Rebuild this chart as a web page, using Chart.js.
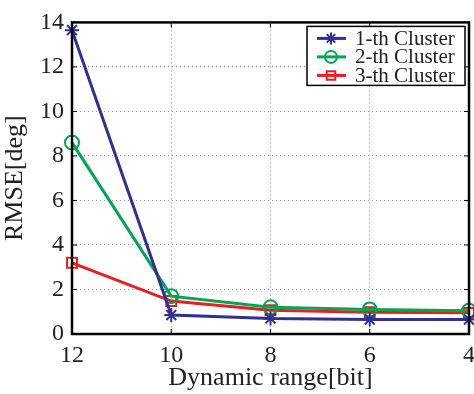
<!DOCTYPE html>
<html>
<head>
<meta charset="utf-8">
<script src="https://cdn.jsdelivr.net/npm/chart.js@4"></script>
<style>
  html, body { margin: 0; padding: 0; background: #fff; overflow: hidden; }
  #wrap { width: 482px; height: 394px; }
</style>
</head>
<body>
<div id="wrap"><canvas id="rmseChart"></canvas></div>
<script>
// data
const bits = ['12', '10', '8', '6', '4'];
const cluster1 = [13.65, 0.85, 0.7, 0.65, 0.65];
const cluster2 = [8.6, 1.7, 1.2, 1.1, 1.05];
const cluster3 = [3.2, 1.48, 1.07, 0.98, 0.95];
const seriesNames = ['1-th Cluster', '2-th Cluster', '3-th Cluster'];
const yTicks = [0, 2, 4, 6, 8, 10, 12, 14];

const FONT = '"Liberation Serif", "Times New Roman", serif';

// frame + inward tick marks (matlab style)
const framePlugin = {
    id: 'frame',
    afterDatasetsDraw(chart) {
        const { ctx, chartArea: a, scales } = chart;
        ctx.save();
        ctx.strokeStyle = '#000';
        ctx.lineWidth = 1;
        bits.forEach((b, i) => {
            const x = scales.x.getPixelForValue(i);
            ctx.beginPath();
            ctx.moveTo(x, a.bottom); ctx.lineTo(x, a.bottom - 5);
            ctx.moveTo(x, a.top); ctx.lineTo(x, a.top + 5);
            ctx.stroke();
        });
        yTicks.forEach(v => {
            const y = scales.y.getPixelForValue(v);
            ctx.beginPath();
            ctx.moveTo(a.left, y); ctx.lineTo(a.left + 5, y);
            ctx.moveTo(a.right, y); ctx.lineTo(a.right - 5, y);
            ctx.stroke();
        });
        ctx.lineWidth = 2.5;
        ctx.strokeRect(a.left, a.top, a.right - a.left, a.bottom - a.top);
        ctx.restore();
    }
};

// legend box inside the top-right corner
const legendBox = {
    id: 'legendBox',
    afterDraw(chart) {
        const { ctx, chartArea: a } = chart;
        const w = 158, h = 59;
        const x0 = a.right - 4 - w, y0 = a.top + 4;
        ctx.save();
        ctx.fillStyle = '#fff';
        ctx.fillRect(x0, y0, w, h);
        ctx.strokeStyle = '#000';
        ctx.lineWidth = 1.5;
        ctx.strokeRect(x0, y0, w, h);
        ctx.font = '21px ' + FONT;
        ctx.textBaseline = 'middle';
        chart.data.datasets.forEach((ds, i) => {
            const cy = y0 + 12 + i * 18.5;
            ctx.strokeStyle = ds.borderColor;
            ctx.lineWidth = 3;
            ctx.beginPath();
            ctx.moveTo(x0 + 10, cy); ctx.lineTo(x0 + 39, cy);
            ctx.stroke();
            ctx.lineWidth = 2;
            ctx.fillStyle = 'rgba(0,0,0,0)';
            Chart.helpers.drawPoint(ctx, {
                pointStyle: ds.pointStyle, radius: 6, rotation: 0, borderWidth: 2
            }, x0 + 24, cy);
            ctx.fillStyle = '#222';
            ctx.fillText(ds.label, x0 + 48, cy + 1);
        });
        ctx.restore();
    }
};

const ctx = document.getElementById('rmseChart').getContext('2d');
new Chart(ctx, {
    type: 'line',
    data: {
        labels: bits,
        datasets: [
            { label: seriesNames[0], data: cluster1, borderColor: '#2e3192', pointStyle: 'star' },
            { label: seriesNames[1], data: cluster2, borderColor: '#00a651', pointStyle: 'circle' },
            { label: seriesNames[2], data: cluster3, borderColor: '#ed1c24', pointStyle: 'rect' }
        ].map(d => Object.assign(d, {
            backgroundColor: 'rgba(0,0,0,0)',
            borderWidth: 3,
            pointRadius: 7,
            pointBorderWidth: 2,
            pointBorderColor: d.borderColor,
            tension: 0
        }))
    },
    options: {
        responsive: true,
        maintainAspectRatio: false,
        animation: false,
        devicePixelRatio: 1,
        layout: { padding: { left: 0, right: 0, top: 20, bottom: 0 } },
        plugins: {
            legend: { display: false },
            tooltip: { enabled: false }
        },
        scales: {
            x: {
                offset: false,
                grid: { color: '#999', lineWidth: 1, drawTicks: false },
                border: { display: false, dash: [1, 3] },
                ticks: { color: '#222', font: { family: FONT, size: 24 }, padding: 7, maxRotation: 0 },
                title: { display: true, text: 'Dynamic range[bit]', color: '#222',
                         font: { family: FONT, size: 26 }, padding: { top: -6, bottom: 0 } },
                afterFit(s) { s.height = 60; }
            },
            y: {
                min: 0, max: 14,
                afterBuildTicks(s) { s.ticks = yTicks.map(v => ({ value: v })); },
                grid: { color: '#999', lineWidth: 1, drawTicks: false },
                border: { display: false, dash: [1, 3] },
                ticks: { color: '#222', font: { family: FONT, size: 24 }, padding: 8 },
                title: { display: true, text: 'RMSE[deg]', color: '#222',
                         font: { family: FONT, size: 26 }, padding: { top: 0, bottom: 0 } },
                afterFit(s) { s.width = 72; }
            }
        }
    },
    plugins: [framePlugin, legendBox]
});
</script>
</body>
</html>
